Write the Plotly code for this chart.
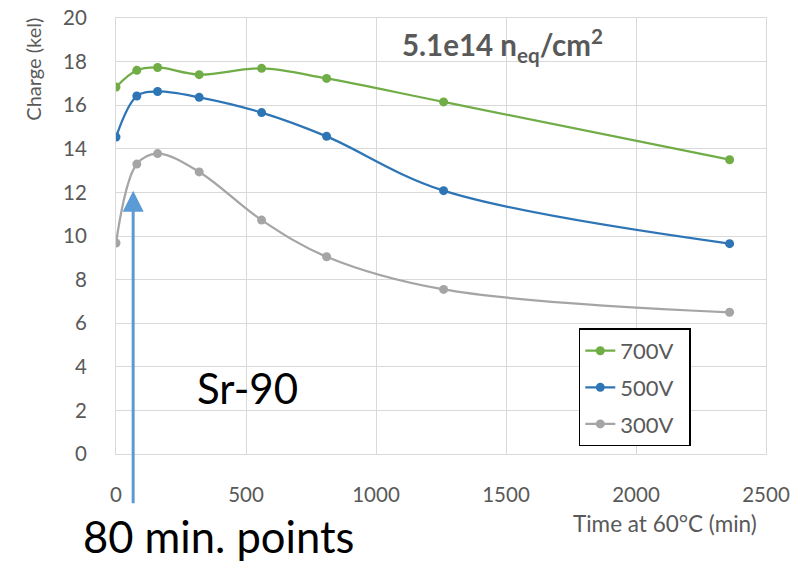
import plotly.graph_objects as go

time_min = [0, 80, 160, 320, 560, 810, 1260, 2360]
charge_700 = [16.83, 17.6, 17.73, 17.4, 17.69, 17.23, 16.15, 13.5]
charge_500 = [14.54, 16.42, 16.63, 16.36, 15.66, 14.57, 12.08, 9.65]
charge_300 = [9.68, 13.3, 13.78, 12.94, 10.73, 9.05, 7.55, 6.5]
series_names = ["700V", "500V", "300V"]
series_colors = ["#70ad47", "#2e75b6", "#a5a5a5"]
x_ticks = [0, 500, 1000, 1500, 2000, 2500]
y_ticks = [0, 2, 4, 6, 8, 10, 12, 14, 16, 18, 20]
arrow_x = 66
arrow_tip_y = 12.08

FONT = "Lato"
GRAY = "#595959"

fig = go.Figure()
for name, vals, col in zip(series_names, [charge_700, charge_500, charge_300], series_colors):
    fig.add_trace(go.Scatter(
        x=time_min, y=vals, name=name + "\u00a0\u00a0", mode="lines+markers", legendgroup=name,
        line=dict(color=col, width=2.25, shape="spline", smoothing=1),
        marker=dict(color=col, size=9),
    ))

fig.update_layout(
    width=797, height=562,
    margin=dict(l=116, r=31, t=18, b=108, autoexpand=False),
    paper_bgcolor="white", plot_bgcolor="white",
    font=dict(family=FONT, color=GRAY),
    xaxis=dict(range=[0, 2500], tickvals=x_ticks, showgrid=True, gridcolor="#d9d9d9",
               gridwidth=1.3, zeroline=False, showline=True, linecolor="#d9d9d9", mirror=True,
               automargin=False,
               tickfont=dict(size=20.5, color=GRAY), ticks="outside", ticklen=22, tickcolor="rgba(0,0,0,0)"),
    yaxis=dict(range=[0, 20], tickvals=y_ticks, showgrid=True, gridcolor="#d9d9d9",
               gridwidth=1.3, zeroline=False, showline=True, linecolor="#d9d9d9", mirror=True,
               automargin=False,
               tickfont=dict(size=20.5, color=GRAY), ticks="outside", ticklen=24, tickcolor="rgba(0,0,0,0)"),
    showlegend=True,
    legend=dict(x=0.712, y=0.288, xanchor="left", yanchor="top",
                bordercolor="black", borderwidth=1.5, bgcolor="white",
                font=dict(size=22, color=GRAY, family=FONT),
                traceorder="grouped", tracegroupgap=5, itemwidth=30),
)

fig.add_annotation(x=arrow_x, y=arrow_tip_y, xref="x", yref="y", ax=0, ay=314,
                   showarrow=True, arrowhead=2, arrowsize=1.4, arrowwidth=3,
                   arrowcolor="#5b9bd5", text="")
fig.add_annotation(xref="paper", yref="paper", x=(400-116)/650, y=(454.3-46)/436,
                   xanchor="left", yanchor="middle", showarrow=False,
                   text="<b>5.1e14 n<sub>eq</sub>/cm<sup>2</sup></b>",
                   font=dict(size=29.5, color=GRAY, family=FONT))
fig.add_annotation(xref="paper", yref="paper", x=(195-116)/650, y=(454.3-388)/436,
                   xanchor="left", yanchor="middle", showarrow=False,
                   text="Sr-90", font=dict(size=42, color="black", family=FONT))
fig.add_annotation(xref="paper", yref="paper", x=(82-116)/650, y=(454.3-536)/436,
                   xanchor="left", yanchor="middle", showarrow=False, borderpad=0,
                   text="80 min. points", font=dict(size=43.5, color="black", family=FONT))
fig.add_annotation(xref="paper", yref="paper", x=(759-116)/650, y=(454.3-524)/436,
                   xanchor="right", yanchor="middle", showarrow=False,
                   text="Time at 60°C (min)", font=dict(size=22.5, color=GRAY, family=FONT))
fig.add_annotation(xref="paper", yref="paper", x=(33-116)/650, y=(454.3-70)/436,
                   xanchor="center", yanchor="middle", showarrow=False, textangle=-90,
                   text="Charge (kel)", font=dict(size=20, color=GRAY, family=FONT))

fig.write_html("out.html")
